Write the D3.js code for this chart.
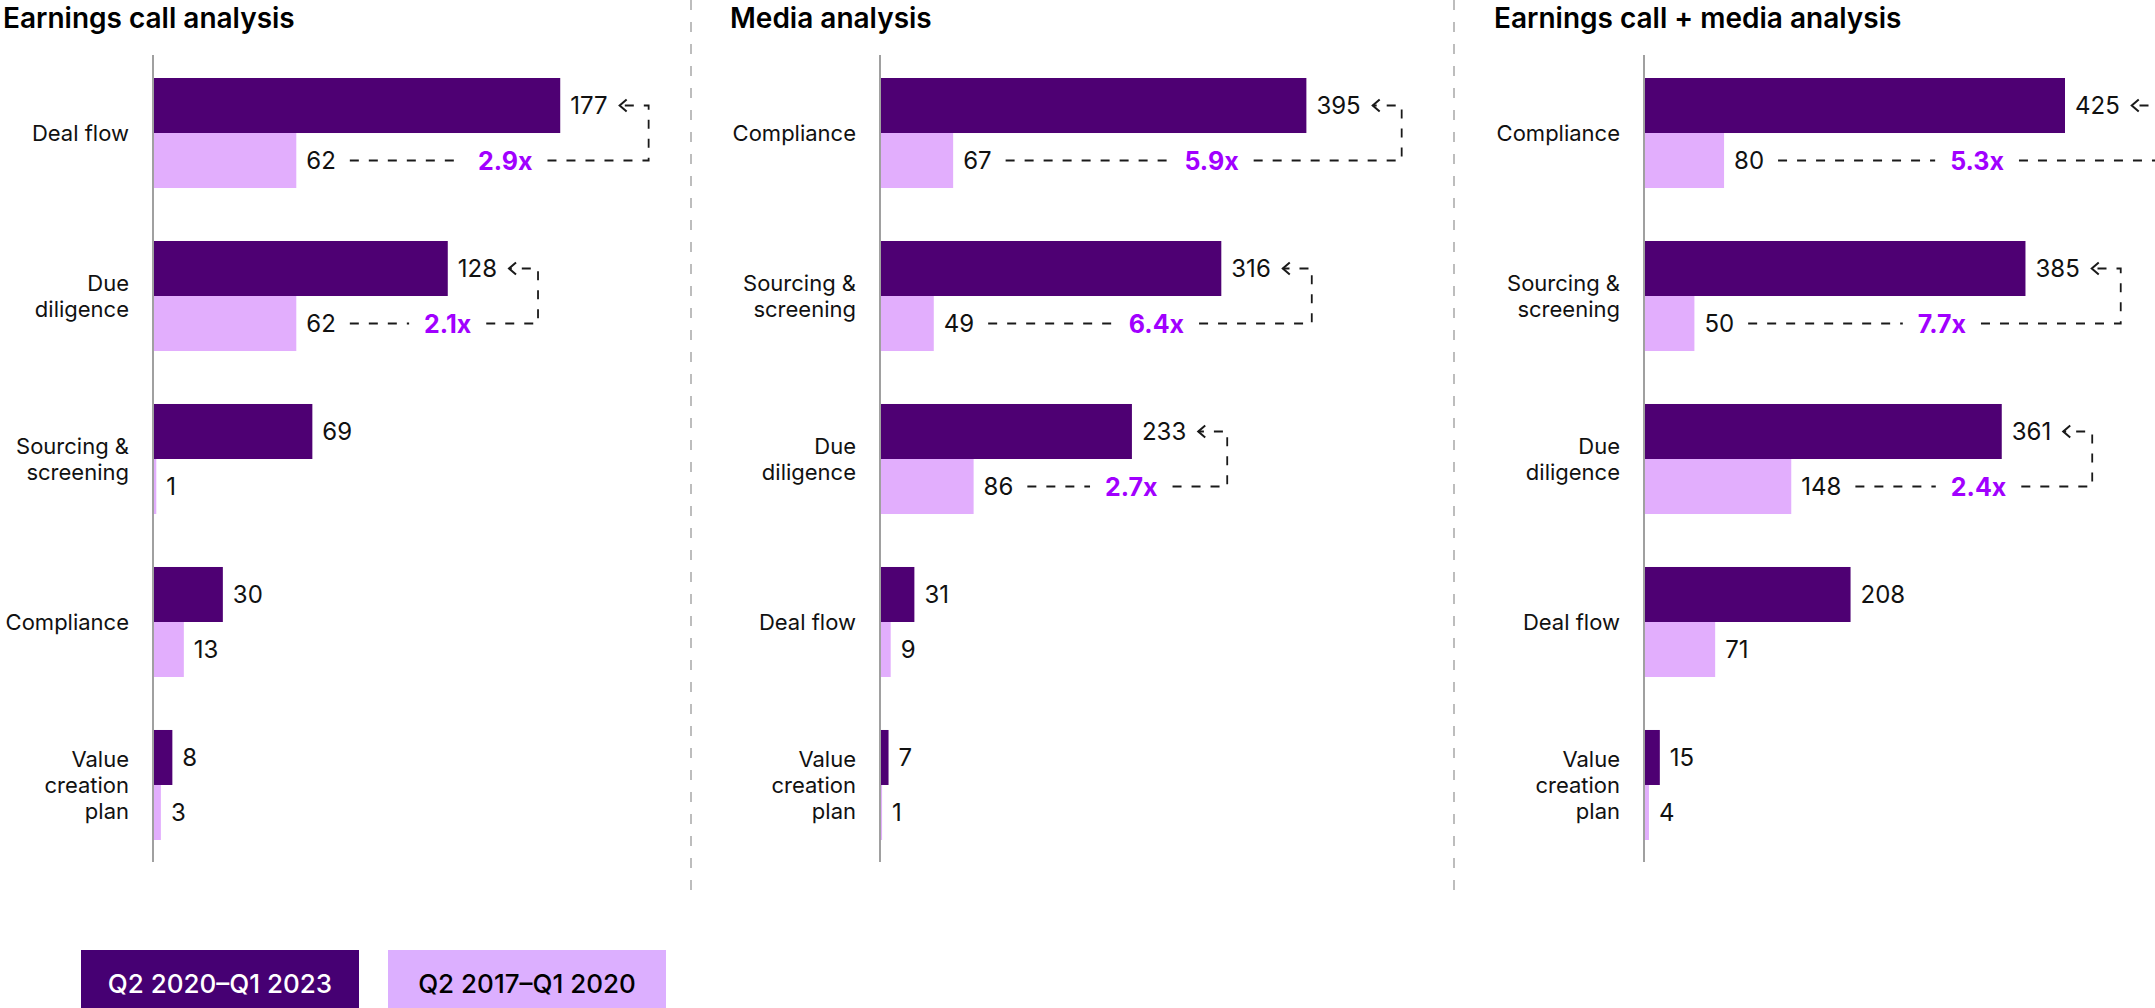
<!DOCTYPE html>
<html>
<head>
<meta charset="utf-8">
<script src="https://cdn.jsdelivr.net/npm/d3@7"></script>
<style>
  html, body { margin: 0; padding: 0; background: #ffffff; }
  svg { display: block; }
  text { font-family: Inter, "Noto Sans", sans-serif; }
</style>
</head>
<body>
<svg id="chart" width="2155" height="1008"></svg>
<script>
// ---------------- DATA ----------------
const seriesNames = ["Q2 2020–Q1 2023", "Q2 2017–Q1 2020"];
const panelTitles = ["Earnings call analysis", "Media analysis", "Earnings call + media analysis"];

const earningsCategories = ["Deal flow", "Due diligence", "Sourcing & screening", "Compliance", "Value creation plan"];
const earningsRecent = [177, 128, 69, 30, 8];
const earningsPrior  = [62, 62, 1, 13, 3];
const earningsMultiple = ["2.9x", "2.1x", null, null, null];

const mediaCategories = ["Compliance", "Sourcing & screening", "Due diligence", "Deal flow", "Value creation plan"];
const mediaRecent = [395, 316, 233, 31, 7];
const mediaPrior  = [67, 49, 86, 9, 1];
const mediaMultiple = ["5.9x", "6.4x", "2.7x", null, null];

const combinedCategories = ["Compliance", "Sourcing & screening", "Due diligence", "Deal flow", "Value creation plan"];
const combinedRecent = [425, 385, 361, 208, 15];
const combinedPrior  = [80, 50, 148, 71, 4];
const combinedMultiple = ["5.3x", "7.7x", "2.4x", null, null];

const categoryLines = {
  "Deal flow": ["Deal flow"],
  "Due diligence": ["Due", "diligence"],
  "Sourcing & screening": ["Sourcing &", "screening"],
  "Compliance": ["Compliance"],
  "Value creation plan": ["Value", "creation", "plan"]
};

// ---------------- LAYOUT / STYLE ----------------
const colorRecent = "#4E0073";
const colorPrior = "#E2AEFD";
const legendRecent = "#460073";
const legendPrior = "#DCAFFF";
const colorMultiple = "#A100FF";
const axisXs = [153, 880, 1644];
const titleXs = [3, 730, 1494];
const dividerXs = [691, 1454];
const domainMax = [183, 390, 425];
const barRangePx = 420;

const panels = [
  { title: panelTitles[0], cats: earningsCategories, recent: earningsRecent, prior: earningsPrior, mult: earningsMultiple },
  { title: panelTitles[1], cats: mediaCategories, recent: mediaRecent, prior: mediaPrior, mult: mediaMultiple },
  { title: panelTitles[2], cats: combinedCategories, recent: combinedRecent, prior: combinedPrior, mult: combinedMultiple }
];

const svg = d3.select("#chart");

// dividers
svg.selectAll("line.divider").data(dividerXs).enter().append("line")
  .attr("class", "divider")
  .attr("x1", d => d).attr("x2", d => d)
  .attr("y1", 0).attr("y2", 893)
  .attr("stroke", "#a8a8a8").attr("stroke-width", 1.5)
  .attr("stroke-dasharray", "10,12");

panels.forEach((p, pi) => {
  const ax = axisXs[pi];
  const g = svg.append("g");

  const x = d3.scaleLinear().domain([0, domainMax[pi]]).range([ax + 1, ax + 1 + barRangePx]);
  const y = d3.scaleBand().domain(p.cats).range([78, 840]).paddingInner(0.325).paddingOuter(0);
  const yi = d3.scaleBand().domain(["recent", "prior"]).range([0, y.bandwidth()]);

  // title
  g.append("text")
    .attr("x", titleXs[pi]).attr("y", 28)
    .attr("font-size", 28).attr("font-weight", 600).attr("fill", "#000")
    .text(p.title);

  const rows = p.cats.map((c, i) => ({ cat: c, recent: p.recent[i], prior: p.prior[i], mult: p.mult[i] }));

  // bars
  rows.forEach(r => {
    [["recent", r.recent, colorRecent], ["prior", r.prior, colorPrior]].forEach(([k, v, col]) => {
      g.append("rect")
        .attr("x", x(0))
        .attr("y", y(r.cat) + yi(k))
        .attr("width", x(v) - x(0))
        .attr("height", yi.bandwidth())
        .attr("fill", col);
    });
  });

  // axis line
  g.append("line")
    .attr("x1", ax).attr("x2", ax)
    .attr("y1", 55).attr("y2", 862)
    .attr("stroke", "#a0a0a0").attr("stroke-width", 2);

  // category labels
  rows.forEach(r => {
    const lines = categoryLines[r.cat];
    const lh = 26;
    const cy = y(r.cat) + y.bandwidth() / 2;
    const t = g.append("text")
      .attr("text-anchor", "end")
      .attr("font-size", 22).attr("fill", "#111");
    lines.forEach((ln, li) => {
      t.append("tspan")
        .attr("x", ax - 24)
        .attr("y", cy - (lines.length - 1) * lh / 2 + li * lh + 8)
        .text(ln);
    });
  });

  // value labels + annotations
  rows.forEach(r => {
    const yTop = y(r.cat) + yi("recent") + yi.bandwidth() / 2;
    const yBot = y(r.cat) + yi("prior") + yi.bandwidth() / 2;
    const tR = g.append("text")
      .attr("x", x(r.recent) + 10).attr("y", yTop).attr("dy", "0.36em")
      .attr("font-size", 24).attr("fill", "#111")
      .text(r.recent);
    const tP = g.append("text")
      .attr("x", x(r.prior) + 10).attr("y", yBot).attr("dy", "0.36em")
      .attr("font-size", 24).attr("fill", "#111")
      .text(r.prior);

    if (r.mult) {
      const rEnd = x(r.recent) + 10 + tR.node().getComputedTextLength();
      const pEnd = x(r.prior) + 10 + tP.node().getComputedTextLength();
      const tip = rEnd + 12;
      const xR = rEnd + 41;
      const lineStart = pEnd + 14;
      const tm = g.append("text")
        .attr("y", yBot).attr("dy", "0.36em")
        .attr("text-anchor", "middle")
        .attr("font-size", 25).attr("font-weight", 700).attr("fill", colorMultiple)
        .text(r.mult);
      const tw = tm.node().getComputedTextLength();
      const cx = lineStart + 0.52 * (xR - lineStart);
      tm.attr("x", cx);
      const gap = 15;
      const dash = "9,10";
      g.append("path")
        .attr("d", `M${cx + tw / 2 + gap},${yBot}H${xR}V${yTop}H${tip}`)
        .attr("fill", "none").attr("stroke", "#1a1a1a").attr("stroke-width", 1.8)
        .attr("stroke-dasharray", dash);
      g.append("path")
        .attr("d", `M${lineStart},${yBot}H${cx - tw / 2 - gap}`)
        .attr("fill", "none").attr("stroke", "#1a1a1a").attr("stroke-width", 1.8)
        .attr("stroke-dasharray", dash);
      g.append("path")
        .attr("d", `M${tip + 7},${yTop - 6}L${tip},${yTop}L${tip + 7},${yTop + 6}`)
        .attr("fill", "none").attr("stroke", "#1a1a1a").attr("stroke-width", 2);
    }
  });
});

// legend
const legendBoxes = [
  { name: seriesNames[0], x0: 81, x1: 359, fill: legendRecent, text: "#ffffff" },
  { name: seriesNames[1], x0: 388, x1: 666, fill: legendPrior, text: "#000000" }
];
const lg = svg.append("g");
lg.selectAll("rect").data(legendBoxes).enter().append("rect")
  .attr("x", d => d.x0).attr("y", 950)
  .attr("width", d => d.x1 - d.x0).attr("height", 60)
  .attr("fill", d => d.fill);
lg.selectAll("text").data(legendBoxes).enter().append("text")
  .attr("x", d => (d.x0 + d.x1) / 2).attr("y", 984).attr("dy", "0.36em")
  .attr("text-anchor", "middle")
  .attr("font-size", 26).attr("font-weight", 500)
  .attr("fill", d => d.text)
  .text(d => d.name);
</script>
</body>
</html>
